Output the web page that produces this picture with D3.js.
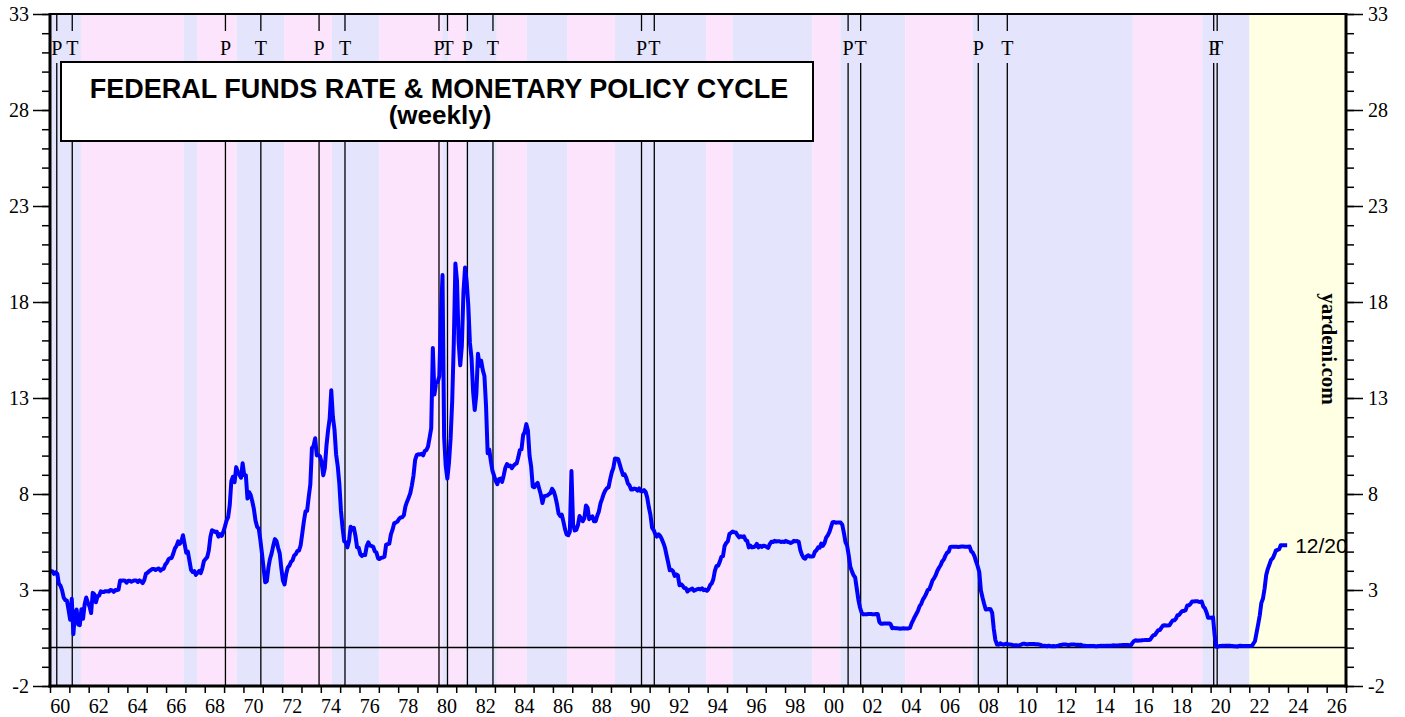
<!DOCTYPE html>
<html lang="en">
<head>
<meta charset="utf-8">
<title>Federal Funds Rate &amp; Monetary Policy Cycle</title>
<script src="https://d3js.org/d3.v7.min.js"></script>
<style>
  body { margin: 0; background: #fff; }
  .axis text { font-family: "Liberation Serif", "Times New Roman", serif; font-size: 20px; fill: #000; }
  .axis line { stroke: #000; stroke-width: 1.5; }
</style>
</head>
<body>
<div id="chart"></div>
<script>
// fed funds rate, one value per month
var rate60s = [
  3.99, 3.97, 3.84, 3.92, 3.85, 3.32, 3.23, 2.98, 2.60, 2.47, 2.44, 1.98,
  1.45, 2.54, 0.70, 1.80, 1.98, 1.20, 1.17, 2.00, 1.50, 2.26, 2.61, 2.33,
  2.15, 1.80, 2.85, 2.78, 2.36, 2.68, 2.71, 2.93, 2.90, 2.90, 2.94, 2.93,
  2.92, 3.00, 2.98, 2.90, 3.00, 2.99, 3.02, 3.49, 3.48, 3.50, 3.48, 3.38,
  3.48, 3.48, 3.43, 3.47, 3.50, 3.50, 3.42, 3.50, 3.45, 3.36, 3.52, 3.85,
  3.90, 3.98, 4.04, 4.09, 4.10, 4.04, 4.09, 4.12, 4.01, 4.08, 4.10, 4.32,
  4.42, 4.60, 4.65, 4.67, 4.90, 5.17, 5.30, 5.53, 5.40, 5.53, 5.85, 5.40,
  4.94, 5.00, 4.53, 4.05, 3.94, 3.98, 3.79, 3.90, 3.99, 3.88, 4.13, 4.51,
  4.61, 4.71, 5.05, 5.76, 6.11, 6.07, 6.02, 6.03, 5.78, 5.91, 5.82, 6.02,
  6.30, 6.61, 6.79, 7.41, 8.67, 8.90, 8.61, 9.40, 9.15, 9.00, 8.85, 9.60
];
var rate70s = [
  8.98, 8.98, 7.76, 8.10, 7.95, 7.61, 7.21, 6.61, 6.29, 6.20, 5.60, 4.90,
  4.14, 3.40, 3.45, 4.16, 4.63, 4.91, 5.31, 5.65, 5.55, 5.20, 4.91, 4.14,
  3.50, 3.29, 3.83, 4.17, 4.27, 4.46, 4.55, 4.80, 4.87, 5.04, 5.06, 5.33,
  5.94, 6.58, 7.09, 7.12, 7.84, 8.49, 10.40, 10.50, 10.90, 10.01, 10.03, 9.95,
  9.65, 8.97, 9.35, 10.51, 11.31, 11.93, 13.40, 12.01, 11.34, 10.06, 9.45, 8.53,
  7.13, 6.24, 5.54, 5.49, 5.22, 5.55, 6.30, 6.14, 6.24, 5.82, 5.22, 5.20,
  4.87, 4.77, 4.84, 4.82, 5.29, 5.48, 5.31, 5.29, 5.25, 5.02, 4.95, 4.65,
  4.61, 4.68, 4.69, 4.73, 5.35, 5.39, 5.42, 5.90, 6.14, 6.47, 6.51, 6.56,
  6.70, 6.78, 6.79, 6.89, 7.36, 7.60, 7.81, 8.04, 8.45, 8.96, 9.76, 10.03,
  10.07, 10.06, 10.09, 10.01, 10.24, 10.29, 10.47, 10.94, 11.43, 15.60, 13.18, 13.78
];
var rate80s = [
  13.82, 14.13, 17.19, 19.40, 10.98, 9.47, 8.80, 9.61, 10.87, 12.81, 15.85, 20.00,
  19.08, 15.93, 14.70, 15.72, 18.52, 19.80, 19.04, 17.82, 15.87, 15.08, 13.31, 12.37,
  13.22, 15.30, 14.68, 14.94, 14.45, 14.15, 12.59, 10.12, 10.31, 9.71, 9.20, 8.95,
  8.68, 8.51, 8.77, 8.80, 8.63, 8.98, 9.37, 9.56, 9.45, 9.48, 9.34, 9.47,
  9.56, 9.59, 9.91, 10.29, 10.32, 11.06, 11.23, 11.64, 11.30, 9.99, 9.43, 8.38,
  8.35, 8.50, 8.58, 8.27, 7.97, 7.53, 7.88, 7.90, 7.92, 7.99, 8.05, 8.27,
  8.14, 7.86, 7.48, 6.99, 6.85, 6.92, 6.56, 6.17, 5.89, 5.85, 6.04, 9.20,
  6.43, 6.10, 6.13, 6.37, 6.85, 6.73, 6.58, 6.73, 7.40, 7.29, 6.69, 6.77,
  6.83, 6.58, 6.58, 6.87, 7.09, 7.51, 7.75, 8.01, 8.19, 8.30, 8.35, 8.76,
  9.12, 9.36, 9.85, 9.84, 9.81, 9.53, 9.24, 8.99, 9.02, 8.84, 8.55, 8.45
];
var rate90s = [
  8.23, 8.24, 8.28, 8.26, 8.18, 8.29, 8.15, 8.13, 8.20, 8.11, 7.81, 7.31,
  6.91, 6.25, 6.12, 5.91, 5.78, 5.90, 5.82, 5.66, 5.45, 5.21, 4.81, 4.43,
  4.03, 4.06, 3.98, 3.73, 3.82, 3.76, 3.25, 3.30, 3.22, 3.10, 3.09, 2.92,
  3.02, 3.03, 3.07, 2.96, 3.00, 3.04, 3.06, 3.03, 3.09, 2.99, 3.02, 2.96,
  3.05, 3.25, 3.34, 3.56, 4.01, 4.25, 4.26, 4.47, 4.73, 4.76, 5.29, 5.45,
  5.53, 5.92, 5.98, 6.05, 6.01, 6.00, 5.85, 5.74, 5.80, 5.76, 5.80, 5.60,
  5.56, 5.22, 5.31, 5.22, 5.24, 5.27, 5.40, 5.22, 5.30, 5.24, 5.31, 5.29,
  5.25, 5.19, 5.39, 5.51, 5.50, 5.56, 5.52, 5.54, 5.54, 5.50, 5.52, 5.50,
  5.56, 5.51, 5.49, 5.45, 5.49, 5.56, 5.54, 5.55, 5.51, 5.07, 4.83, 4.68,
  4.63, 4.76, 4.81, 4.74, 4.74, 4.76, 4.99, 5.07, 5.22, 5.20, 5.42, 5.30
];
var rate00s = [
  5.45, 5.73, 5.85, 6.02, 6.27, 6.53, 6.54, 6.50, 6.52, 6.51, 6.51, 6.40,
  5.98, 5.49, 5.31, 4.80, 4.21, 3.97, 3.77, 3.65, 3.07, 2.49, 2.09, 1.82,
  1.73, 1.74, 1.73, 1.75, 1.75, 1.75, 1.73, 1.74, 1.75, 1.75, 1.34, 1.24,
  1.24, 1.26, 1.25, 1.26, 1.26, 1.22, 1.01, 1.03, 1.01, 1.01, 1.00, 0.98,
  1.00, 1.01, 1.00, 1.00, 1.00, 1.03, 1.26, 1.43, 1.61, 1.76, 1.93, 2.16,
  2.28, 2.50, 2.63, 2.79, 3.00, 3.04, 3.26, 3.50, 3.62, 3.78, 4.00, 4.16,
  4.29, 4.49, 4.59, 4.79, 4.94, 4.99, 5.24, 5.25, 5.25, 5.25, 5.25, 5.24,
  5.25, 5.26, 5.26, 5.25, 5.25, 5.25, 5.26, 5.02, 4.94, 4.76, 4.49, 4.24,
  3.94, 2.98, 2.61, 2.28, 1.98, 2.00, 2.01, 2.00, 1.81, 0.97, 0.39, 0.16,
  0.15, 0.22, 0.18, 0.15, 0.18, 0.21, 0.16, 0.16, 0.15, 0.12, 0.12, 0.12
];
var rate10s = [
  0.11, 0.13, 0.16, 0.20, 0.20, 0.18, 0.18, 0.19, 0.19, 0.19, 0.19, 0.18,
  0.17, 0.16, 0.14, 0.10, 0.09, 0.09, 0.07, 0.10, 0.08, 0.07, 0.08, 0.07,
  0.08, 0.10, 0.13, 0.14, 0.16, 0.16, 0.16, 0.13, 0.14, 0.16, 0.16, 0.16,
  0.14, 0.15, 0.14, 0.15, 0.11, 0.09, 0.09, 0.08, 0.08, 0.09, 0.08, 0.09,
  0.07, 0.07, 0.08, 0.09, 0.09, 0.10, 0.09, 0.09, 0.09, 0.09, 0.09, 0.12,
  0.11, 0.11, 0.11, 0.12, 0.12, 0.13, 0.13, 0.14, 0.14, 0.12, 0.12, 0.24,
  0.34, 0.38, 0.36, 0.37, 0.37, 0.38, 0.39, 0.40, 0.40, 0.40, 0.41, 0.54,
  0.65, 0.66, 0.79, 0.90, 0.91, 1.04, 1.15, 1.16, 1.15, 1.15, 1.16, 1.30,
  1.41, 1.42, 1.51, 1.69, 1.70, 1.82, 1.91, 1.91, 1.95, 2.19, 2.20, 2.27,
  2.40, 2.40, 2.41, 2.42, 2.39, 2.38, 2.40, 2.13, 2.04, 1.83, 1.55, 1.55
];
var rate20s = [
  1.55, 1.58, 0.65, 0.05, 0.05, 0.08, 0.09, 0.10, 0.09, 0.09, 0.09, 0.09,
  0.09, 0.08, 0.07, 0.07, 0.06, 0.08, 0.10, 0.09, 0.08, 0.08, 0.08, 0.08,
  0.08, 0.08, 0.20, 0.33, 0.77, 1.21, 1.68, 2.33, 2.56, 3.08, 3.78, 4.10,
  4.33, 4.57, 4.65, 4.83, 5.06, 5.08, 5.12, 5.33, 5.33, 5.33, 5.33, 5.33
];

// business cycle peaks (P) and troughs (T), decimal years
var peakDates = [1960.35, 1969.07, 1973.91, 1980.11, 1981.58, 1990.58, 2001.26, 2007.99, 2020.16];
var troughDates = [1961.15, 1970.90, 1975.25, 1980.55, 1982.90, 1991.24, 2001.91, 2009.49, 2020.34];

// policy bands: easing / tightening / latest
var bandEdges = [1960.0, 1961.6, 1966.9, 1967.6, 1969.65, 1972.1, 1974.57, 1977.03, 1980.28, 1980.58,
  1981.48, 1983.1, 1984.65, 1986.73, 1989.21, 1993.92, 1995.28, 1999.4, 2000.86, 2004.21,
  2007.69, 2015.98, 2019.57, 2022.01, 2027];
var bandKinds = ["ease", "tight", "ease", "tight", "ease", "tight", "ease", "tight", "ease", "tight",
  "ease", "tight", "ease", "tight", "ease", "tight", "ease", "tight", "ease", "tight",
  "ease", "tight", "ease", "now"];

var yLabels = [-2, 3, 8, 13, 18, 23, 28, 33];
var lastLabel = "12/20";

var width = 1405, height = 717;
var pLeft = 50, pRight = 1346, pTop = 14, pBottom = 686;

var bandColor = { ease: "#e4e4fc", tight: "#fde4fd", now: "#ffffe4" };

var x = d3.scaleLinear().domain([1960, 2027]).range([pLeft, pRight]);
var y = d3.scaleLinear().domain([-2, 33]).range([pBottom, pTop]);

var decades = [[1960, rate60s], [1970, rate70s], [1980, rate80s], [1990, rate90s],
  [2000, rate00s], [2010, rate10s], [2020, rate20s]];
var data = [];
decades.forEach(function(d) {
  d[1].forEach(function(v, i) {
    data.push({ t: d[0] + (i + 0.5) / 12, v: v });
  });
});

var svg = d3.select("#chart").append("svg")
  .attr("width", width)
  .attr("height", height);

svg.append("defs").append("clipPath").attr("id", "plot")
  .append("rect")
  .attr("x", pLeft).attr("y", pTop)
  .attr("width", pRight - pLeft).attr("height", pBottom - pTop);

// bands
svg.append("g").selectAll("rect")
  .data(bandKinds)
  .enter().append("rect")
  .attr("x", function(d, i) { return x(bandEdges[i]); })
  .attr("y", pTop)
  .attr("width", function(d, i) { return x(bandEdges[i + 1]) - x(bandEdges[i]); })
  .attr("height", pBottom - pTop)
  .attr("fill", function(d) { return bandColor[d]; });

// cycle lines + labels
var cycles = peakDates.map(function(t) { return { t: t, k: "P" }; })
  .concat(troughDates.map(function(t) { return { t: t, k: "T" }; }));

var cyc = svg.append("g").selectAll("g")
  .data(cycles)
  .enter().append("g");

cyc.append("line")
  .attr("x1", function(d) { return x(d.t); })
  .attr("x2", function(d) { return x(d.t); })
  .attr("y1", pTop).attr("y2", 31)
  .attr("stroke", "#000").attr("stroke-width", 1.3);

cyc.append("line")
  .attr("x1", function(d) { return x(d.t); })
  .attr("x2", function(d) { return x(d.t); })
  .attr("y1", 63).attr("y2", pBottom)
  .attr("stroke", "#000").attr("stroke-width", 1.3);

cyc.append("text")
  .attr("x", function(d) { return x(d.t); })
  .attr("y", 55)
  .attr("text-anchor", "middle")
  .attr("font-family", "Liberation Serif, Times New Roman, serif")
  .attr("font-size", 20)
  .text(function(d) { return d.k; });

// zero line
svg.append("line")
  .attr("x1", pLeft).attr("x2", pRight)
  .attr("y1", y(0)).attr("y2", y(0))
  .attr("stroke", "#000").attr("stroke-width", 1.5);

// rate
var line = d3.line()
  .x(function(d) { return x(d.t); })
  .y(function(d) { return y(d.v); });

svg.append("path")
  .datum(data)
  .attr("d", line)
  .attr("fill", "none")
  .attr("stroke", "#0000ff")
  .attr("stroke-width", 4)
  .attr("stroke-linejoin", "round");

var last = data[data.length - 1];
svg.append("text")
  .attr("clip-path", "url(#plot)")
  .attr("x", x(last.t) + 8)
  .attr("y", y(last.v) + 8)
  .attr("font-family", "Liberation Sans, Arial, sans-serif")
  .attr("font-size", 21)
  .text(lastLabel);

// title box
svg.append("rect")
  .attr("x", 61).attr("y", 62)
  .attr("width", 752).attr("height", 79)
  .attr("fill", "#fff")
  .attr("stroke", "#000").attr("stroke-width", 2);

svg.append("text")
  .attr("x", 439).attr("y", 98)
  .attr("text-anchor", "middle")
  .attr("font-family", "Liberation Sans, Arial, sans-serif")
  .attr("font-weight", "bold")
  .attr("font-size", 27)
  .text("FEDERAL FUNDS RATE & MONETARY POLICY CYCLE");

svg.append("text")
  .attr("x", 440).attr("y", 124)
  .attr("text-anchor", "middle")
  .attr("font-family", "Liberation Sans, Arial, sans-serif")
  .attr("font-weight", "bold")
  .attr("font-size", 26)
  .text("(weekly)");

svg.append("text")
  .attr("transform", "translate(1322,349) rotate(90)")
  .attr("text-anchor", "middle")
  .attr("font-family", "Liberation Serif, Times New Roman, serif")
  .attr("font-weight", "bold")
  .attr("font-size", 21)
  .text("yardeni.com");

// axes
var minorY = d3.range(-2, 34);
var years = d3.range(1960, 2028);
var labelYears = d3.range(1960.5, 2027, 2);

function noDomain(g) { g.select(".domain").remove(); }
function plain(d) { return String(d); }

svg.append("g").attr("class", "axis")
  .attr("transform", "translate(" + pLeft + ",0)")
  .call(d3.axisLeft(y).tickValues(minorY).tickSize(8).tickFormat(""))
  .call(noDomain);
svg.append("g").attr("class", "axis")
  .attr("transform", "translate(" + pLeft + ",0)")
  .call(d3.axisLeft(y).tickValues(yLabels).tickSize(17).tickPadding(4).tickFormat(plain))
  .call(noDomain);

svg.append("g").attr("class", "axis")
  .attr("transform", "translate(" + pRight + ",0)")
  .call(d3.axisRight(y).tickValues(minorY).tickSize(8).tickFormat(""))
  .call(noDomain);
svg.append("g").attr("class", "axis")
  .attr("transform", "translate(" + pRight + ",0)")
  .call(d3.axisRight(y).tickValues(yLabels).tickSize(17).tickPadding(5).tickFormat(plain))
  .call(noDomain);

svg.append("g").attr("class", "axis")
  .attr("transform", "translate(0," + pBottom + ")")
  .call(d3.axisBottom(x).tickValues(years).tickSize(7).tickFormat(""))
  .call(noDomain);
svg.append("g").attr("class", "axis")
  .attr("transform", "translate(0," + pBottom + ")")
  .call(d3.axisBottom(x).tickValues(labelYears).tickSize(0).tickPadding(13)
    .tickFormat(function(d) { return d3.format("02d")(Math.floor(d) % 100); }))
  .call(noDomain);

// frame
svg.append("line").attr("x1", pLeft - 1).attr("x2", pRight + 1).attr("y1", pTop).attr("y2", pTop)
  .attr("stroke", "#000").attr("stroke-width", 2);
svg.append("line").attr("x1", pLeft - 1.5).attr("x2", pRight + 1.5).attr("y1", pBottom).attr("y2", pBottom)
  .attr("stroke", "#000").attr("stroke-width", 3);
svg.append("line").attr("x1", pLeft).attr("x2", pLeft).attr("y1", pTop - 1).attr("y2", pBottom + 1.5)
  .attr("stroke", "#000").attr("stroke-width", 3);
svg.append("line").attr("x1", pRight).attr("x2", pRight).attr("y1", pTop - 1).attr("y2", pBottom + 1.5)
  .attr("stroke", "#000").attr("stroke-width", 3);
</script>
</body>
</html>
